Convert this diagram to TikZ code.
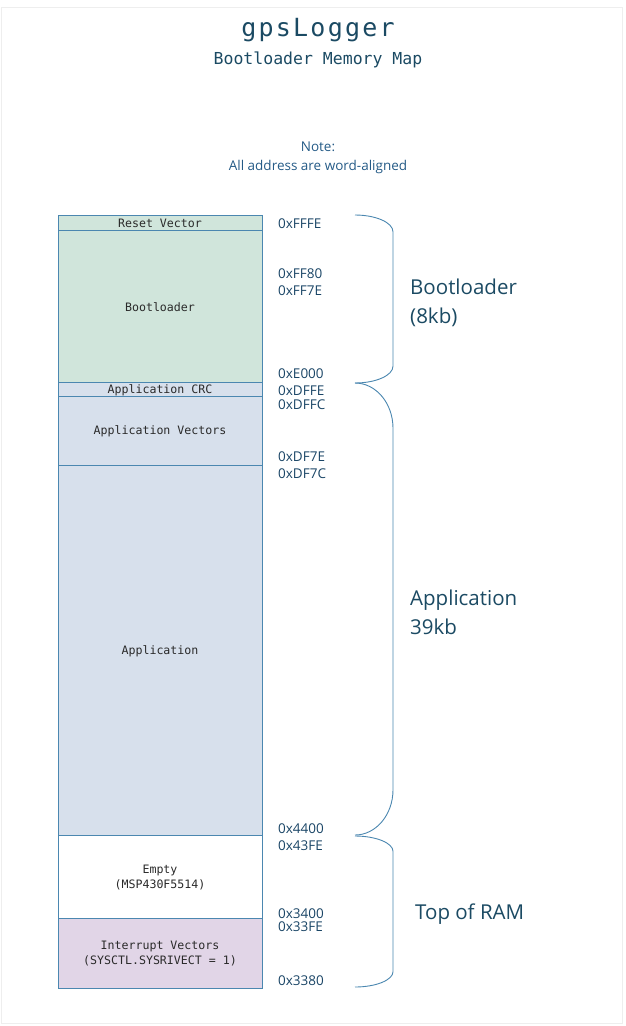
\documentclass[tikz,border=0pt]{standalone}
\usepackage{fontspec}
\setmainfont{Open Sans}
\newfontfamily\boxfont{DejaVu Sans Mono}
\newfontfamily\titlefont[LetterSpace=9]{DejaVu Sans Mono}
\definecolor{frameg}{HTML}{EEEEEE}
\definecolor{edgeb}{HTML}{4B87B0}
\definecolor{fillg}{HTML}{D0E5DB}
\definecolor{fillb}{HTML}{D7E0EC}
\definecolor{fillp}{HTML}{E1D5E7}
\definecolor{txtd}{HTML}{1A4566}
\definecolor{txtt}{HTML}{1B4A63}
\definecolor{txtn}{HTML}{245A86}
\definecolor{txtbox}{HTML}{2A2A2A}
\tikzset{
  membox/.style={draw=edgeb, line width=0.9pt, minimum width=204pt, inner sep=0pt},
  boxtxt/.style={inner sep=0pt, font=\boxfont\fontsize{11.6}{15.5}\selectfont, text=txtbox, align=center},
  addr/.style={anchor=west, inner sep=0pt, font=\fontsize{13.5}{16}\selectfont, text=txtd},
  bracelbl/.style={anchor=west, inner sep=0pt, font=\fontsize{20.5}{29}\selectfont, text=txtt, align=left},
  bracepath/.style={draw=edgeb, line width=0.9pt}
}
\begin{document}
\begin{tikzpicture}[x=1pt,y=-1pt]
\useasboundingbox (0,0) rectangle (625,1026);
\draw[frameg, line width=1pt] (1.5,7.5) rectangle (622.5,1023.5);

% titles
\node[font=\titlefont\fontsize{25}{28}\selectfont, text=txtt, inner sep=0pt] (title) at (318,30) {gpsLogger};
\node[font=\boxfont\fontsize{16.5}{20}\selectfont, text=txtt, inner sep=0pt] (subtitle) at (318,60) {Bootloader Memory Map};
\node[font=\fontsize{13.5}{19}\selectfont, text=txtn, align=center, inner sep=0pt] (note) at (318,157.5) {Note:\\All address are word-aligned};

% memory boxes
\node[membox, fill=fillg, minimum height=15pt] (reset) at (160,222.5) {};
\node[membox, fill=fillg, minimum height=152pt] (boot) at (160,306) {};
\node[membox, fill=fillb, minimum height=14pt] (crc) at (160,389) {};
\node[membox, fill=fillb, minimum height=69pt] (appvec) at (160,430.5) {};
\node[membox, fill=fillb, minimum height=370pt] (app) at (160,650) {};
\node[membox, fill=white, minimum height=83pt] (empty) at (160,876.5) {};
\node[membox, fill=fillp, minimum height=70pt] (intv) at (160,953) {};

\node[boxtxt] (treset) at ([yshift=-1pt]reset.center) {Reset Vector};
\node[boxtxt] (tboot) at ([yshift=-1pt]boot.center) {Bootloader};
\node[boxtxt] (tcrc) at ([yshift=-1pt]crc.center) {Application CRC};
\node[boxtxt] (tappvec) at ([yshift=-1pt]appvec.center) {Application Vectors};
\node[boxtxt] (tapp) at ([yshift=-1.5pt]app.center) {Application};
\node[boxtxt] (tempty) at ([yshift=-1pt]empty.center) {Empty\\(MSP430F5514)};
\node[boxtxt] (tintv) at ([yshift=-0.5pt]intv.center) {Interrupt Vectors\\(SYSCTL.SYSRIVECT = 1)};

% addresses
\node[addr] (a1) at (278,224) {0xFFFE};
\node[addr] (a2) at (278,274) {0xFF80};
\node[addr] (a3) at (278,291) {0xFF7E};
\node[addr] (a4) at (278,374) {0xE000};
\node[addr] (a5) at (278,391) {0xDFFE};
\node[addr] (a6) at (278,405) {0xDFFC};
\node[addr] (a7) at (278,457) {0xDF7E};
\node[addr] (a8) at (278,474) {0xDF7C};
\node[addr] (a9) at (278,829) {0x4400};
\node[addr] (a10) at (278,846) {0x43FE};
\node[addr] (a11) at (278,914) {0x3400};
\node[addr] (a12) at (278,927) {0x33FE};
\node[addr] (a13) at (278,981) {0x3380};

% braces
\draw[bracepath] (355,215) .. controls (376,215) and (393,222.6) .. (393,231.8)
  -- (393,366.2) .. controls (393,375.4) and (376,383) .. (355,383);
\draw[bracepath] (355,383) .. controls (376,383) and (393,403.3) .. (393,428.2)
  -- (393,789.8) .. controls (393,814.7) and (376,835) .. (355,835);
\draw[bracepath] (355,836) .. controls (376,836) and (393,843) .. (393,851.3)
  -- (393,971.7) .. controls (393,980) and (376,987) .. (355,987);

% brace labels
\node[bracelbl] (lboot) at (410,302.5) {Bootloader\\(8kb)};
\node[bracelbl] (lapp) at (410,612) {Application\\39kb};
\node[bracelbl] (lram) at (415,914.5) {Top of RAM};
\end{tikzpicture}
\end{document}
